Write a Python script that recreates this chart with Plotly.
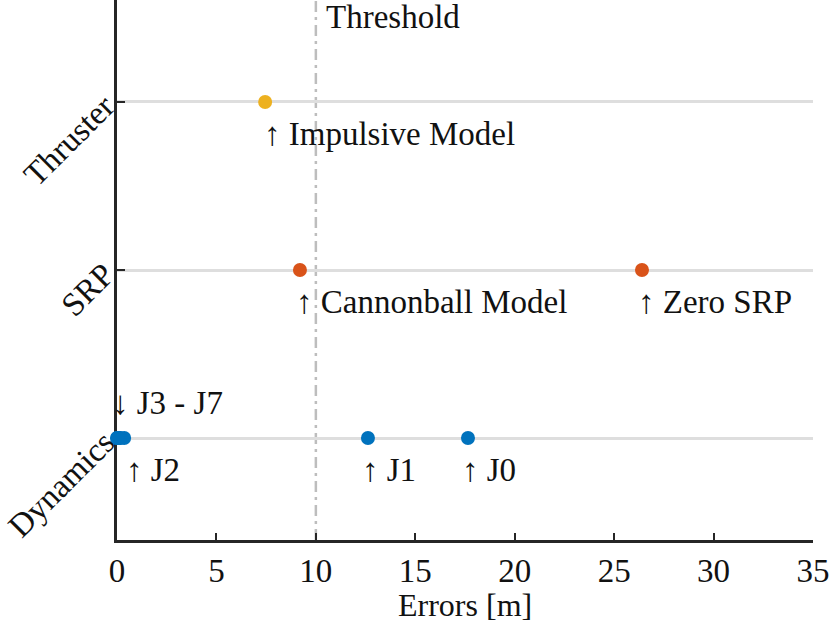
import plotly.graph_objects as go

# rows of the chart
categories = ["Dynamics", "SRP", "Thruster"]

# errors in metres
dyn_labels = ["J0", "J1", "J2", "J3", "J4", "J5", "J6", "J7"]
dyn_errors = [17.65, 12.62, 0.36, 0.15, 0.1, 0.05, 0.02, 0.0]

srp_labels = ["Zero SRP", "Cannonball Model"]
srp_errors = [26.4, 9.2]

thr_labels = ["Impulsive Model"]
thr_errors = [7.45]

threshold = 10

FONT = "Liberation Serif"
FS = 33
AXC = "#262626"

fig = go.Figure()

series = [
    ("Dynamics", dyn_errors, "#0072BD"),
    ("SRP", srp_errors, "#D95319"),
    ("Thruster", thr_errors, "#EDB120"),
]
for cat, vals, col in series:
    fig.add_trace(go.Scatter(
        x=vals, y=[cat] * len(vals), mode="markers",
        marker=dict(size=14, color=col),
        cliponaxis=False, showlegend=False))

# threshold line
fig.add_shape(type="line", x0=threshold, x1=threshold, y0=0, y1=1,
              xref="x", yref="paper", layer="below",
              line=dict(color="#bdbdbd", width=2.5,
                        dash="11px,5px,3px,5px"))

annotations = [
    dict(x=threshold, y=1, xref="x", yref="paper",
         text="Threshold", xanchor="left", yanchor="middle",
         xshift=8, yshift=-17, showarrow=False),
    # x axis title
    dict(x=0.5, y=-0.12, xref="paper", yref="paper", text="Errors [m]",
         xanchor="center", yanchor="middle", showarrow=False,
         font=dict(size=32)),
]


def label_below(x, cat, name, shift=-6):
    return dict(x=x, y=cat, text="↑ " + name, xanchor="left",
                yanchor="middle", xshift=shift, yshift=-32, showarrow=False)


annotations.append(label_below(thr_errors[0], "Thruster", thr_labels[0], -3))
for v, n in zip(srp_errors, srp_labels):
    annotations.append(label_below(v, "SRP", n))
for v, n in zip(dyn_errors[:3], dyn_labels[:3]):
    annotations.append(label_below(v, "Dynamics", n, -8 if n != "J2" else 0))
annotations.append(dict(x=dyn_errors[-1], y="Dynamics",
                        text="↓ " + dyn_labels[3] + " - " + dyn_labels[-1],
                        xanchor="left", yanchor="middle", xshift=-7,
                        yshift=35, showarrow=False))

fig.update_layout(
    width=830, height=626,
    margin=dict(l=117, r=17, t=0, b=86),
    plot_bgcolor="white", paper_bgcolor="white",
    font=dict(family=FONT, size=FS, color="#111111"),
    annotations=annotations,
    xaxis=dict(
        range=[0, 35], tickvals=[0, 5, 10, 15, 20, 25, 30, 35],
        showgrid=False, zeroline=False, automargin=False,
        showline=True, linecolor=AXC, linewidth=2.5,
        ticks="inside", ticklen=7, tickwidth=2, tickcolor=AXC,
        ticklabelstandoff=0, layer="below traces",
    ),
    yaxis=dict(
        type="category", categoryorder="array", categoryarray=categories,
        range=[-0.607, 2.607], automargin=False,
        showgrid=True, gridcolor="#dedede", gridwidth=3,
        zeroline=False, showline=True, linecolor=AXC, linewidth=2.5,
        ticks="inside", ticklen=8, tickwidth=2, tickcolor=AXC,
        tickangle=-45, ticklabelstandoff=3, layer="below traces",
    ),
)

# the page body has a default margin; drop it so the figure sits at 0,0
fig.write_html("out.html", config={"displayModeBar": False},
               post_script="document.body.style.margin='0';")
